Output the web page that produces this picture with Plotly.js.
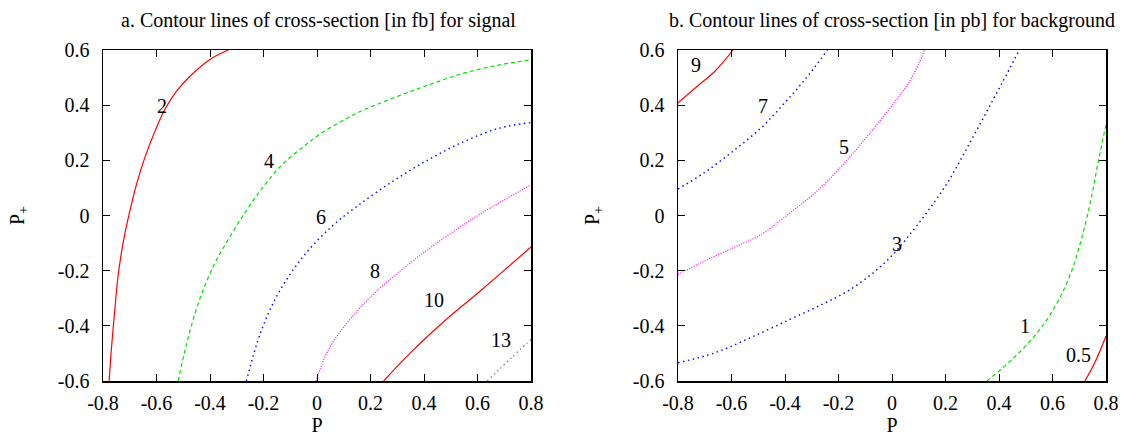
<!DOCTYPE html>
<html>
<head>
<meta charset="utf-8">
<script src="https://cdn.plot.ly/plotly-3.0.1.min.js"></script>
<style>html,body{margin:0;padding:0;background:#fff;}#chart{width:1122px;height:436px;}</style>
</head>
<body>
<div id="chart"></div>
<script>
// ---- Panel a: signal cross-section contours [fb] ----
var sig2_x = [-0.331, -0.4, -0.475, -0.525, -0.569, -0.606, -0.644, -0.675, -0.703, -0.725, -0.744, -0.756, -0.769, -0.777];
var sig2_y = [0.6, 0.566, 0.505, 0.451, 0.384, 0.305, 0.209, 0.112, 0.002, -0.1, -0.222, -0.343, -0.488, -0.6];
var sig4_x = [-0.519, -0.487, -0.444, -0.388, -0.325, -0.262, -0.2, -0.13, -0.05, 0.016, 0.149, 0.283, 0.416, 0.549, 0.683, 0.8];
var sig4_y = [-0.6, -0.464, -0.319, -0.185, -0.076, 0.021, 0.105, 0.185, 0.25, 0.298, 0.371, 0.425, 0.473, 0.516, 0.546, 0.564];
var sig6_x = [-0.264, -0.211, -0.144, -0.051, 0.056, 0.149, 0.283, 0.416, 0.549, 0.683, 0.8];
var sig6_y = [-0.6, -0.425, -0.281, -0.148, -0.039, 0.033, 0.124, 0.202, 0.268, 0.317, 0.337];
var sig8_x = [-0.004, 0.043, 0.123, 0.216, 0.349, 0.483, 0.616, 0.8];
var sig8_y = [-0.6, -0.486, -0.377, -0.281, -0.172, -0.076, 0.009, 0.111];
var sig10_x = [0.249, 0.349, 0.483, 0.616, 0.8];
var sig10_y = [-0.6, -0.498, -0.377, -0.269, -0.114];
var sig13_x = [0.636, 0.787, 0.8];
var sig13_y = [-0.6, -0.461, -0.45];
var sigLabels = ["2", "4", "6", "8", "10", "13"];
var sigLabel_x = [-0.581, -0.181, 0.016, 0.216, 0.436, 0.687];
var sigLabel_y = [0.397, 0.198, -0.006, -0.202, -0.305, -0.452];

// ---- Panel b: background cross-section contours [pb] ----
var bg9_x = [-0.8, -0.730, -0.663, -0.594];
var bg9_y = [0.409, 0.467, 0.522, 0.6];
var bg7_x = [-0.8, -0.703, -0.596, -0.489, -0.409, -0.328, -0.241];
var bg7_y = [0.096, 0.154, 0.232, 0.318, 0.4, 0.49, 0.6];
var bg5_x = [-0.8, -0.703, -0.596, -0.489, -0.382, -0.275, -0.167, -0.073, 0.007, 0.061, 0.101, 0.121];
var bg5_y = [-0.214, -0.166, -0.118, -0.069, 0.009, 0.093, 0.202, 0.310, 0.407, 0.479, 0.552, 0.6];
var bg3_x = [-0.8, -0.663, -0.529, -0.382, -0.261, -0.167, -0.073, 0.0, 0.074, 0.141, 0.208, 0.275, 0.342, 0.409, 0.476];
var bg3_y = [-0.534, -0.498, -0.443, -0.377, -0.322, -0.275, -0.21, -0.145, -0.06, 0.025, 0.12, 0.235, 0.355, 0.476, 0.6];
var bg1_x = [0.355, 0.449, 0.543, 0.610, 0.664, 0.704, 0.742, 0.772, 0.8];
var bg1_y = [-0.6, -0.522, -0.425, -0.329, -0.220, -0.100, 0.05, 0.2, 0.329];
var bg05_x = [0.721, 0.758, 0.8];
var bg05_y = [-0.6, -0.534, -0.437];
var bgLabels = ["9", "7", "5", "3", "1", "0.5"];
var bgLabel_x = [-0.733, -0.482, -0.181, 0.018, 0.499, 0.697];
var bgLabel_y = [0.546, 0.397, 0.25, -0.103, -0.401, -0.504];

var tickVals_x = [-0.8, -0.6, -0.4, -0.2, 0, 0.2, 0.4, 0.6, 0.8];
var tickText_x = ["-0.8", "-0.6", "-0.4", "-0.2", "0", "0.2", "0.4", "0.6", "0.8"];
var tickVals_y = [-0.6, -0.4, -0.2, 0, 0.2, 0.4, 0.6];
var tickText_y = ["-0.6", "-0.4", "-0.2", "0", "0.2", "0.4", "0.6"];

var panelTitles = ["a. Contour lines of cross-section [in fb] for signal",
                   "b. Contour lines of cross-section [in pb] for background"];

function ln(color, width, dash) {
  return {color: color, width: width, dash: dash, shape: "spline", smoothing: 1};
}

function tr(x, y, line, xa, ya) {
  return {x: x, y: y, type: "scatter", mode: "lines", line: line,
          xaxis: xa, yaxis: ya, hoverinfo: "skip", showlegend: false};
}

var data = [
  tr(sig2_x, sig2_y, ln("#ff0000", 1.2, "solid"), "x", "y"),
  tr(sig4_x, sig4_y, ln("#00e000", 1.2, "4px,3px"), "x", "y"),
  tr(sig6_x, sig6_y, ln("#0000ff", 1.4, "1.5px,3.5px"), "x", "y"),
  tr(sig8_x, sig8_y, ln("#ff00ff", 1.2, "1px,1.5px"), "x", "y"),
  tr(sig10_x, sig10_y, ln("#ff0000", 1.2, "solid"), "x", "y"),
  tr(sig13_x, sig13_y, ln("#808080", 1.3, "1.5px,3px"), "x", "y"),
  tr(bg9_x, bg9_y, ln("#ff0000", 1.2, "solid"), "x2", "y2"),
  tr(bg7_x, bg7_y, ln("#0000ff", 1.4, "1.5px,3.5px"), "x2", "y2"),
  tr(bg5_x, bg5_y, ln("#ff00ff", 1.2, "1px,1.5px"), "x2", "y2"),
  tr(bg3_x, bg3_y, ln("#0000ff", 1.4, "1.5px,3.5px"), "x2", "y2"),
  tr(bg1_x, bg1_y, ln("#00e000", 1.2, "4px,3px"), "x2", "y2"),
  tr(bg05_x, bg05_y, ln("#ff0000", 1.2, "solid"), "x2", "y2")
];

function F(sz) { return {family: "Liberation Serif", size: sz || 20, color: "#000000"}; }

var annotations = [];
sigLabels.forEach(function (t, i) {
  annotations.push({x: sigLabel_x[i], y: sigLabel_y[i], xref: "x", yref: "y", text: t,
    showarrow: false, font: F(20)});
});
bgLabels.forEach(function (t, i) {
  annotations.push({x: bgLabel_x[i], y: bgLabel_y[i], xref: "x2", yref: "y2", text: t,
    showarrow: false, font: F(20)});
});
annotations.push({x: 318 / 1122, y: 1 - 21 / 436, xref: "paper", yref: "paper", text: panelTitles[0],
  showarrow: false, font: F(20), xanchor: "center", yanchor: "middle"});
annotations.push({x: 892 / 1122, y: 1 - 21 / 436, xref: "paper", yref: "paper", text: panelTitles[1],
  showarrow: false, font: F(20), xanchor: "center", yanchor: "middle"});

function xax(domain, anchor) {
  return {domain: domain, anchor: anchor, range: [-0.8, 0.8], tickvals: tickVals_x, ticktext: tickText_x,
    ticks: "inside", ticklen: 7, tickwidth: 1, tickcolor: "#000", showline: true, linecolor: "#000",
    linewidth: 1.5, mirror: "ticks", showgrid: false, zeroline: false, tickfont: F(20),
    ticklabelstandoff: 3,
    title: {text: "P", font: F(20), standoff: 4}};
}
function yax(anchor) {
  return {domain: [55 / 436, 386 / 436], anchor: anchor, range: [-0.6, 0.6], tickvals: tickVals_y, ticktext: tickText_y,
    ticks: "inside", ticklen: 7, tickwidth: 1, tickcolor: "#000", showline: true, linecolor: "#000",
    linewidth: 1.5, mirror: "ticks", showgrid: false, zeroline: false, tickfont: F(20),
    ticklabelstandoff: 8,
    title: {text: "P<sub>+</sub>", font: F(20), standoff: 28}};
}

var layout = {
  width: 1122, height: 436,
  margin: {l: 0, r: 0, t: 0, b: 0},
  paper_bgcolor: "#fff", plot_bgcolor: "#fff",
  font: F(20),
  xaxis: xax([103 / 1122, 531 / 1122], "y"),
  yaxis: yax("x"),
  xaxis2: xax([678 / 1122, 1106 / 1122], "y2"),
  yaxis2: yax("x2"),
  annotations: annotations,
  showlegend: false
};

Plotly.newPlot("chart", data, layout, {displayModeBar: false, staticPlot: true});
</script>
</body>
</html>
